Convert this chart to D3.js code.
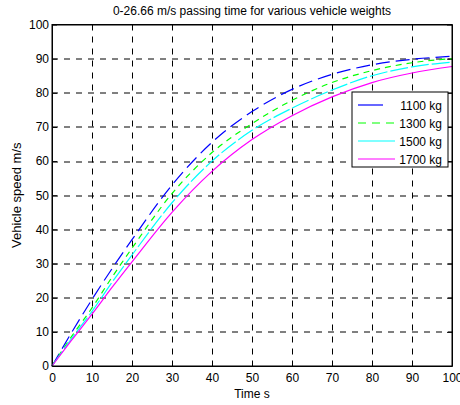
<!DOCTYPE html>
<html>
<head>
<meta charset="utf-8">
<script src="https://cdn.jsdelivr.net/npm/d3@7"></script>
<style>
  body { margin: 0; background: #fff; }
  svg text { font-family: "Liberation Sans", Arial, sans-serif; fill: #000; }
</style>
</head>
<body>
<div id="chart"></div>
<script>
// time samples (s) and speed (m/s) per vehicle weight
const times = [0, 5, 10, 15, 20, 30, 40, 50, 60, 70, 80, 90, 100];
const speed1100 = [0, 10, 19.5, 28.5, 37, 53, 65.5, 74.5, 81, 85.4, 88.2, 89.8, 90.7];
const speed1300 = [0, 8.8, 17, 26, 34.5, 50.5, 62.5, 71, 77.8, 83, 86.5, 88.8, 90];
const speed1500 = [0, 8.2, 16, 24.5, 32.5, 47.8, 60, 69, 75.5, 80.8, 85, 87.6, 89];
const speed1700 = [0, 7.7, 15.2, 23, 30.5, 45, 57, 66.3, 73.3, 78.8, 83, 85.8, 87.7];
const seriesNames = ["1100 kg", "1300 kg", "1500 kg", "1700 kg"];
const xTicks = [0, 10, 20, 30, 40, 50, 60, 70, 80, 90, 100];
const yTicks = [0, 10, 20, 30, 40, 50, 60, 70, 80, 90, 100];

const series = [
    { name: seriesNames[0], values: speed1100, color: "#0000ff", dash: "14,6" },
    { name: seriesNames[1], values: speed1300, color: "#00ff00", dash: "6,5" },
    { name: seriesNames[2], values: speed1500, color: "#00ffff", dash: "18,3" },
    { name: seriesNames[3], values: speed1700, color: "#ff00ff", dash: null }
];

const width = 460, height = 405;
const margin = { left: 52, top: 24.5, right: 8, bottom: 39 };
const iw = width - margin.left - margin.right;
const ih = height - margin.top - margin.bottom;

const svg = d3.select("#chart").append("svg")
    .attr("width", width)
    .attr("height", height);

const g = svg.append("g")
    .attr("transform", "translate(" + margin.left + "," + margin.top + ")");

const x = d3.scaleLinear().domain([0, 100]).range([0, iw]);
const y = d3.scaleLinear().domain([0, 100]).range([ih, 0]);

// grid
g.selectAll(".vgrid")
    .data(xTicks.slice(1, -1))
    .enter().append("line")
    .attr("x1", d => Math.round(x(d)) + 0.5)
    .attr("x2", d => Math.round(x(d)) + 0.5)
    .attr("y1", 0).attr("y2", ih)
    .attr("stroke", "#000")
    .attr("stroke-dasharray", "6,6");

g.selectAll(".hgrid")
    .data(yTicks.slice(1, -1))
    .enter().append("line")
    .attr("y1", d => Math.round(y(d)) + 0.5)
    .attr("y2", d => Math.round(y(d)) + 0.5)
    .attr("x1", 0).attr("x2", iw)
    .attr("stroke", "#000")
    .attr("stroke-dasharray", "6,6");

// axes with inward ticks
g.append("g")
    .attr("transform", "translate(0," + ih + ")")
    .call(d3.axisBottom(x).tickValues(xTicks).tickSizeInner(-5).tickSizeOuter(0).tickPadding(7));
g.append("g")
    .call(d3.axisLeft(y).tickValues(yTicks).tickSizeInner(-5).tickSizeOuter(0).tickPadding(3));
g.append("g")
    .call(d3.axisTop(x).tickValues(xTicks).tickSizeInner(-5).tickSizeOuter(0).tickFormat(""));
g.append("g")
    .attr("transform", "translate(" + iw + ",0)")
    .call(d3.axisRight(y).tickValues(yTicks).tickSizeInner(-5).tickSizeOuter(0).tickFormat(""));

g.selectAll(".tick text")
    .style("font-size", "12px")
    .style("font-family", "Liberation Sans, Arial, sans-serif");
g.selectAll(".domain").attr("stroke", "#000");

// lines
const line = d3.line()
    .x((d, i) => x(times[i]))
    .y(d => y(d))
    .curve(d3.curveMonotoneX);

g.selectAll(".series")
    .data(series)
    .enter().append("path")
    .attr("class", "series")
    .attr("d", d => line(d.values))
    .attr("fill", "none")
    .attr("stroke", d => d.color)
    .attr("stroke-width", 1.2)
    .attr("stroke-dasharray", d => d.dash);

// frame
g.append("rect")
    .attr("x", 0).attr("y", 0)
    .attr("width", iw).attr("height", ih)
    .attr("fill", "none")
    .attr("stroke", "#000");

// legend
const legend = svg.append("g").attr("transform", "translate(352,92)");
legend.append("rect")
    .attr("width", 96).attr("height", 75)
    .attr("fill", "#fff")
    .attr("stroke", "#000");

const items = legend.selectAll(".item")
    .data(series)
    .enter().append("g")
    .attr("transform", (d, i) => "translate(0," + (13 + i * 18) + ")");
items.append("line")
    .attr("x1", 6).attr("x2", d => d.name === "1100 kg" ? 31 : 43)
    .attr("y1", 0).attr("y2", 0)
    .attr("stroke", d => d.color)
    .attr("stroke-width", 1.2)
    .attr("stroke-dasharray", d => d.name === "1300 kg" ? "8,6" : null);
items.append("text")
    .attr("x", 90).attr("y", 4.5)
    .attr("text-anchor", "end")
    .style("font-size", "12px")
    .text(d => d.name);

// titles
svg.append("text")
    .attr("x", margin.left + iw / 2).attr("y", 15)
    .attr("text-anchor", "middle")
    .style("font-size", "12px")
    .text("0-26.66 m/s passing time for various vehicle weights");

svg.append("text")
    .attr("x", margin.left + iw / 2).attr("y", 398)
    .attr("text-anchor", "middle")
    .style("font-size", "12px")
    .text("Time s");

svg.append("text")
    .attr("transform", "translate(21," + (margin.top + ih / 2) + ") rotate(-90)")
    .attr("text-anchor", "middle")
    .style("font-size", "13px")
    .text("Vehicle speed m/s");
</script>
</body>
</html>
